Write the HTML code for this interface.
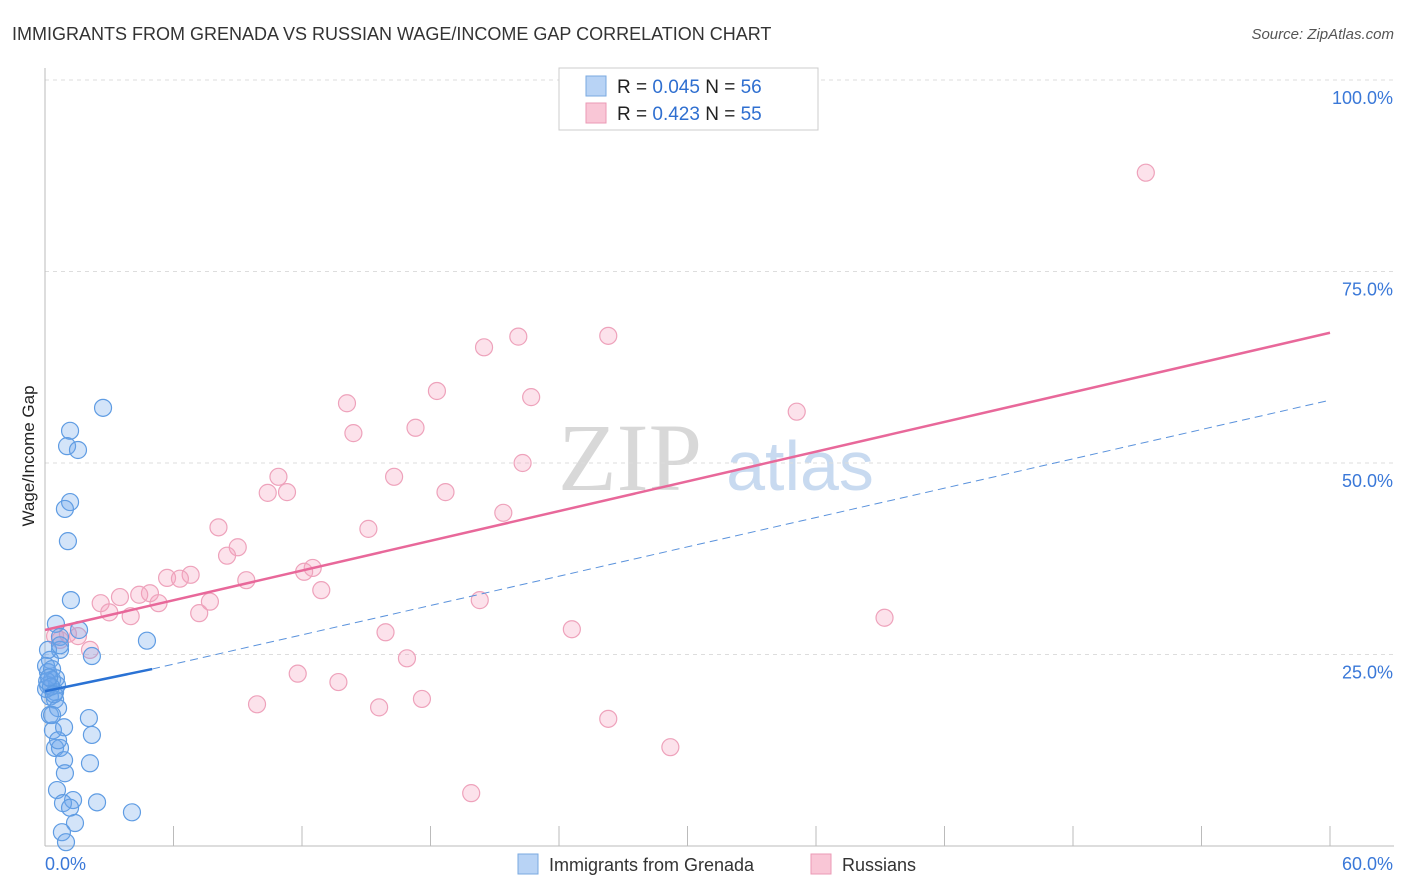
<!DOCTYPE html>
<html><head><meta charset="utf-8"><style>
body{margin:0;background:#fff;font-family:"Liberation Sans",sans-serif;}
svg{display:block}
</style></head><body>
<svg id="chart" width="1406" height="892">
<text x="12" y="40" font-size="18" fill="#333">IMMIGRANTS FROM GRENADA VS RUSSIAN WAGE/INCOME GAP CORRELATION CHART</text>
<text x="1394" y="39" font-size="15" fill="#555" text-anchor="end" font-style="italic">Source: ZipAtlas.com</text>
<text x="0" y="0" transform="translate(34,456) rotate(-90)" font-size="17" fill="#222" text-anchor="middle">Wage/Income Gap</text>
<g><text x="630" y="490" font-size="96" fill="#d8d8d8" font-family="Liberation Serif,serif" text-anchor="middle">ZIP</text><text x="800" y="490" font-size="70" fill="#c8daf0" text-anchor="middle">atlas</text></g>
<g id="grid"></g><g id="axes"></g><g id="marks"></g>
<g>
<rect x="559" y="68" width="259" height="62" fill="#fff" stroke="#ccc"/>
<rect x="586" y="76" width="20" height="20" fill="#b8d3f5" stroke="#7aaae0"/>
<rect x="586" y="103" width="20" height="20" fill="#f9c6d6" stroke="#eb9ab5"/>
<text x="617" y="93" font-size="19" fill="#222">R = <tspan fill="#2f6fd0">0.045</tspan>   N = <tspan fill="#2f6fd0">56</tspan></text>
<text x="617" y="120" font-size="19" fill="#222">R =  <tspan fill="#2f6fd0">0.423</tspan>   N = <tspan fill="#2f6fd0">55</tspan></text>
</g>
<g>
<rect x="518" y="854" width="20" height="20" fill="#b8d3f5" stroke="#7aaae0"/>
<text x="549" y="871" font-size="18" fill="#333">Immigrants from Grenada</text>
<rect x="811" y="854" width="20" height="20" fill="#f9c6d6" stroke="#eb9ab5"/>
<text x="842" y="871" font-size="18" fill="#333">Russians</text>
</g>
</svg>
<script>
const yTicks=[25,50,75,100];
const yTickLabels=["25.0%","50.0%","75.0%","100.0%"];
const xTicks=[0,6,12,18,24,30,36,42,48,54,60];
const blueX=[2.71,1.17,1.03,1.54,1.17,0.93,1.07,1.21,1.59,4.76,2.19,0.51,0.70,0.70,0.23,0.14,0.33,0.14,0.56,0.47,0.23,0.47,0.61,0.23,0.37,0.89,2.05,2.19,0.47,0.70,0.89,2.10,0.93,0.56,1.31,0.84,1.17,2.43,4.06,1.40,0.79,0.98,0.14,0.05,0.33,0.70,0.51,0.05,0.33,0.61,0.10,0.28,0.42,0.19];
const blueY=[57.2,54.2,52.2,51.7,44.9,44.0,39.8,32.1,28.2,26.8,24.8,29.0,27.3,25.6,24.3,22.7,21.7,21.0,21.0,20.1,19.5,19.1,18.0,17.1,15.1,15.5,16.7,14.5,12.8,12.8,11.2,10.8,9.5,7.3,6.0,5.6,5.0,5.7,4.4,3.0,1.8,0.5,25.6,23.5,23.1,26.2,21.9,20.5,17.1,13.8,21.5,20.8,19.8,22.0];
const pinkX=[51.4,22.1,26.3,20.5,18.3,22.7,35.1,14.1,14.4,17.3,22.3,10.9,16.3,10.4,11.3,18.7,21.4,8.1,15.1,9.0,8.5,12.5,12.1,5.7,6.8,6.3,9.4,12.9,4.9,4.4,3.5,2.6,7.7,5.3,3.0,4.0,7.2,20.3,39.2,15.9,24.6,1.07,1.54,0.70,2.10,16.9,11.8,13.7,9.9,15.6,17.6,26.3,29.2,19.9,0.47];
const pinkY=[87.9,66.5,66.6,65.1,59.4,58.6,56.7,57.8,53.9,54.6,50.0,48.2,48.2,46.1,46.2,46.2,43.5,41.6,41.4,39.0,37.9,36.3,35.8,35.0,35.4,34.9,34.7,33.4,33.0,32.8,32.5,31.7,31.9,31.7,30.5,30.0,30.4,32.1,29.8,27.9,28.3,27.7,27.4,26.9,25.6,24.5,22.5,21.4,18.5,18.1,19.2,16.6,12.9,6.9,27.4];
const pinkTrend=[[0,28.2],[60,67.0]];
const blueTrendSolid=[[0,20.2],[5,23.1]];
const blueTrendDash=[[5,23.1],[60,58.2]];
const NS="http://www.w3.org/2000/svg";
const X0=45,X1=1330,Y0=846,YTOP=80;
const sx=v=>X0+(v/60)*(X1-X0);
const sy=v=>Y0-(v/100)*(Y0-YTOP);
function mk(tag,attrs,parent){const e=document.createElementNS(NS,tag);for(const k in attrs)e.setAttribute(k,attrs[k]);parent.appendChild(e);return e;}
const grid=document.getElementById('grid'),axes=document.getElementById('axes'),marks=document.getElementById('marks');
yTicks.forEach((t,i)=>{
 const l=mk('line',{x1:X0,x2:1394,y1:sy(t),y2:sy(t),stroke:'#ddd','stroke-dasharray':'4,4'},grid);
 
 
 const tx=mk('text',{x:1393,y:sy(t)+24,'font-size':18,fill:'#3a78d8','text-anchor':'end'},axes);
 tx.textContent=yTickLabels[i];
 
 
});
const ya=mk('line',{x1:X0,x2:X0,y1:68,y2:Y0,stroke:'#bbb'},axes);


const xa=mk('line',{x1:X0,x2:1394,y1:Y0,y2:Y0,stroke:'#bbb'},axes);


xTicks.forEach(t=>{
 const l=mk('line',{x1:sx(t),x2:sx(t),y1:826,y2:Y0,stroke:'#bbb'},axes);
 
 
});
[["0.0%",45,'start'],["60.0%",1393,'end']].forEach(a=>{
 const t=mk('text',{x:a[1],y:870,'font-size':18,fill:'#3a78d8','text-anchor':a[2]},axes);
 t.textContent=a[0];
 
 
});
pinkX.forEach((x,i)=>{
 const c=mk('circle',{cx:sx(x),cy:sy(pinkY[i]),r:8.5,fill:'rgba(244,160,188,0.3)',stroke:'#eea2bb','stroke-width':1.2},marks);
 
 
});
blueX.forEach((x,i)=>{
 const c=mk('circle',{cx:sx(x),cy:sy(blueY[i]),r:8.5,fill:'rgba(110,165,235,0.3)',stroke:'#5f9ce3','stroke-width':1.2},marks);
 
 
});
const pl=mk('line',{x1:sx(pinkTrend[0][0]),y1:sy(pinkTrend[0][1]),x2:sx(pinkTrend[1][0]),y2:sy(pinkTrend[1][1]),stroke:'#e8689a','stroke-width':2.5},marks);


const bl=mk('line',{x1:sx(blueTrendSolid[0][0]),y1:sy(blueTrendSolid[0][1]),x2:sx(blueTrendSolid[1][0]),y2:sy(blueTrendSolid[1][1]),stroke:'#2a72d4','stroke-width':2.5},marks);


const bd=mk('line',{x1:sx(blueTrendDash[0][0]),y1:sy(blueTrendDash[0][1]),x2:sx(blueTrendDash[1][0]),y2:sy(blueTrendDash[1][1]),stroke:'#5a92dc','stroke-width':1,'stroke-dasharray':'8,5'},marks);


</script>
</body></html>
